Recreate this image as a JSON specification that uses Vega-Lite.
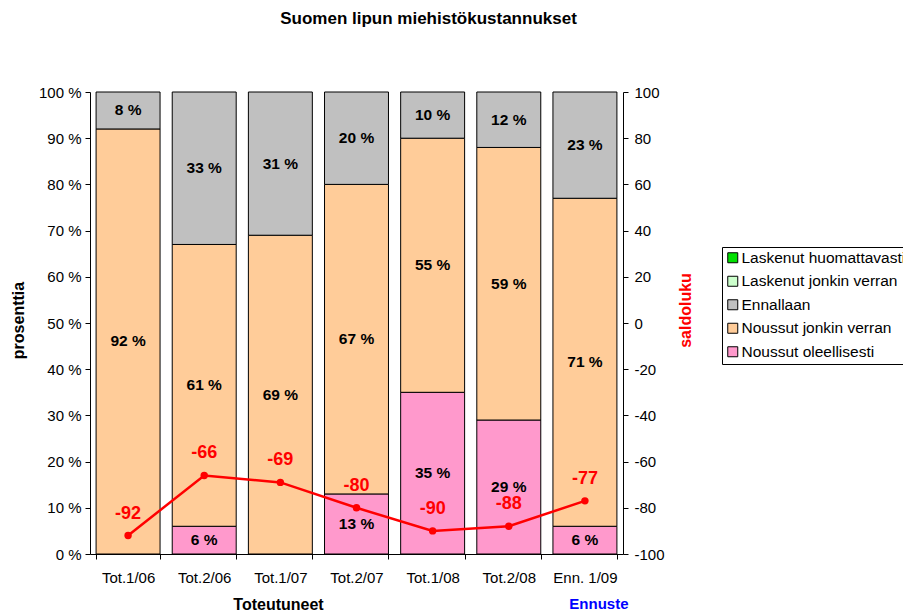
{
  "$schema": "https://vega.github.io/schema/vega-lite/v6.json",
  "width": 533,
  "height": 462,
  "autosize": "none",
  "padding": {"left": 90, "top": 92, "right": 280, "bottom": 59},
  "background": "white",
  "config": {
    "font": "Liberation Sans",
    "view": {"stroke": null},
    "axis": {"grid": false, "domainColor": "black", "tickColor": "black", "labelColor": "black", "labelFontSize": 15, "titleFontSize": 16, "titleFontWeight": "bold", "titleColor": "black", "labelFont": "Liberation Sans", "titleFont": "Liberation Sans", "tickSize": 5}
  },
  "title": {"text": "Suomen lipun miehistökustannukset", "fontSize": 17, "fontWeight": "bold", "offset": 57, "dx": 72, "color": "black", "font": "Liberation Sans"},
  "datasets": {
    "bars": [
      {"period": "Tot.1/06", "cat": "Noussut jonkin verran", "v": 92},
      {"period": "Tot.1/06", "cat": "Ennallaan", "v": 8},
      {"period": "Tot.2/06", "cat": "Noussut oleellisesti", "v": 6},
      {"period": "Tot.2/06", "cat": "Noussut jonkin verran", "v": 61},
      {"period": "Tot.2/06", "cat": "Ennallaan", "v": 33},
      {"period": "Tot.1/07", "cat": "Noussut jonkin verran", "v": 69},
      {"period": "Tot.1/07", "cat": "Ennallaan", "v": 31},
      {"period": "Tot.2/07", "cat": "Noussut oleellisesti", "v": 13},
      {"period": "Tot.2/07", "cat": "Noussut jonkin verran", "v": 67},
      {"period": "Tot.2/07", "cat": "Ennallaan", "v": 20},
      {"period": "Tot.1/08", "cat": "Noussut oleellisesti", "v": 35},
      {"period": "Tot.1/08", "cat": "Noussut jonkin verran", "v": 55},
      {"period": "Tot.1/08", "cat": "Ennallaan", "v": 10},
      {"period": "Tot.2/08", "cat": "Noussut oleellisesti", "v": 29},
      {"period": "Tot.2/08", "cat": "Noussut jonkin verran", "v": 59},
      {"period": "Tot.2/08", "cat": "Ennallaan", "v": 12},
      {"period": "Enn. 1/09", "cat": "Noussut oleellisesti", "v": 6},
      {"period": "Enn. 1/09", "cat": "Noussut jonkin verran", "v": 71},
      {"period": "Enn. 1/09", "cat": "Ennallaan", "v": 23}
    ],
    "saldo": [
      {"period": "Tot.1/06", "saldo": -92},
      {"period": "Tot.2/06", "saldo": -66},
      {"period": "Tot.1/07", "saldo": -69},
      {"period": "Tot.2/07", "saldo": -80},
      {"period": "Tot.1/08", "saldo": -90},
      {"period": "Tot.2/08", "saldo": -88},
      {"period": "Enn. 1/09", "saldo": -77}
    ]
  },
  "encoding": {
    "x": {
      "field": "period", "type": "nominal",
      "sort": ["Tot.1/06", "Tot.2/06", "Tot.1/07", "Tot.2/07", "Tot.1/08", "Tot.2/08", "Enn. 1/09"],
      "scale": {"paddingInner": 0.16, "paddingOuter": 0.08},
      "axis": {"labelAngle": 0, "tickBand": "extent", "title": "Toteutuneet", "titleX": 188, "titleY": 42, "titleBaseline": "top", "labelPadding": 11}
    }
  },
  "layer": [
    {
      "data": {"name": "bars"},
      "layer": [
        {
          "mark": {"type": "bar", "stroke": "black", "strokeWidth": 1},
          "encoding": {
            "y": {"field": "v", "type": "quantitative", "stack": "zero", "scale": {"domain": [0, 100]},
                  "axis": {"values": [0, 10, 20, 30, 40, 50, 60, 70, 80, 90, 100], "labelExpr": "datum.value + ' %'", "title": "prosenttia", "titleX": -72, "titleY": 228, "titleBaseline": "middle", "labelPadding": 4}},
            "color": {"field": "cat", "type": "nominal",
              "scale": {"domain": ["Laskenut huomattavasti", "Laskenut jonkin verran", "Ennallaan", "Noussut jonkin verran", "Noussut oleellisesti"],
                        "range": ["#00E000", "#CCFFCC", "#C0C0C0", "#FFCC99", "#FF99CC"]},
              "legend": {"title": null, "orient": "none", "legendX": 632, "legendY": 155, "symbolType": "square", "symbolSize": 100, "symbolStrokeColor": "black", "symbolStrokeWidth": 1, "labelFontSize": 15.5, "labelColor": "black", "labelFont": "Liberation Sans", "labelOffset": 1, "strokeColor": "black", "padding": 3, "rowPadding": 6.5, "fillColor": "white", "labelLimit": 400}},
            "order": {"field": "cat", "sort": "descending"}
          }
        },
        {
          "transform": [
            {"stack": "v", "groupby": ["period"], "sort": [{"field": "cat", "order": "descending"}], "as": ["y0", "y1"]},
            {"calculate": "(datum.y0 + datum.y1) / 2", "as": "mid"},
            {"calculate": "datum.v + ' %'", "as": "lab"}
          ],
          "mark": {"type": "text", "fontSize": 15.5, "fontWeight": "bold", "color": "black", "baseline": "middle"},
          "encoding": {
            "y": {"field": "mid", "type": "quantitative"},
            "text": {"field": "lab"}
          }
        },
        {
          "data": {"values": [{"period": "Enn. 1/09", "t": "Ennuste"}]},
          "mark": {"type": "text", "fontSize": 15, "fontWeight": "bold", "color": "#0000FF", "baseline": "middle", "dy": 50, "dx": 14},
          "encoding": {
            "y": {"datum": 0, "type": "quantitative"},
            "text": {"field": "t"}
          }
        }
      ]
    },
    {
      "data": {"name": "saldo"},
      "layer": [
        {
          "mark": {"type": "line", "color": "#FF0000", "strokeWidth": 2.5, "point": {"filled": true, "color": "#FF0000", "size": 55}},
          "encoding": {
            "y": {"field": "saldo", "type": "quantitative", "scale": {"domain": [-100, 100]},
                  "axis": {"orient": "right", "values": [-100, -80, -60, -40, -20, 0, 20, 40, 60, 80, 100], "labelExpr": "'' + datum.value", "title": "saldoluku", "titleColor": "#FF0000", "titleAngle": 270, "titleX": 62, "titleY": 218, "titleBaseline": "middle", "labelPadding": 6}}
          }
        },
        {
          "mark": {"type": "text", "color": "#FF0000", "fontSize": 18, "fontWeight": "bold", "dy": -22, "baseline": "middle"},
          "encoding": {
            "y": {"field": "saldo", "type": "quantitative"},
            "text": {"field": "saldo", "type": "nominal"}
          }
        }
      ]
    }
  ],
  "resolve": {"scale": {"y": "independent"}}
}
